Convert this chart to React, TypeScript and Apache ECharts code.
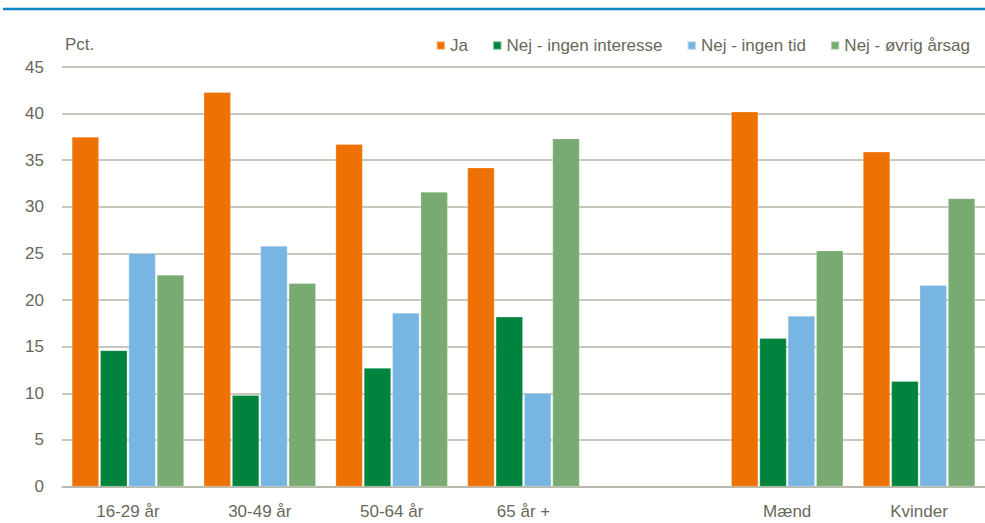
import React, { useEffect, useRef } from "react";
import * as echarts from "echarts";

const categories = ["16-29 år", "30-49 år", "50-64 år", "65 år +", "", "Mænd", "Kvinder"];
const seriesNames = ["Ja", "Nej - ingen interesse", "Nej - ingen tid", "Nej - øvrig årsag"];
const ja = [37.5, 42.3, 36.7, 34.2, null, 40.2, 35.9];
const ingenInteresse = [14.6, 9.8, 12.7, 18.2, null, 15.9, 11.3];
const ingenTid = [25.0, 25.8, 18.6, 10.0, null, 18.3, 21.6];
const oevrig = [22.7, 21.8, 31.6, 37.3, null, 25.3, 30.9];
const colors = ["#EE7203", "#00843D", "#77B5E3", "#78AB72"];
const yTicks = { min: 0, max: 45, interval: 5 };

export default function App() {
  const ref = useRef<HTMLDivElement>(null);
  useEffect(() => {
    document.body.style.margin = "0";
    if (!ref.current) return;
    const chart = echarts.init(ref.current, undefined, { renderer: "svg" });
    const font = "'Liberation Sans', Arial, sans-serif";
    const textColor = "#68685A";
    const gridColor = "#B5B5A6";
    const data = [ja, ingenInteresse, ingenTid, oevrig];
    chart.setOption({
      animation: false,
      textStyle: { fontFamily: font },
      grid: { left: 62, top: 67, width: 930, height: 419.5 },
      legend: {
        right: 10,
        top: 32,
        itemWidth: 8.5,
        itemHeight: 8.5,
        itemGap: 24,
        icon: "rect",
        textStyle: { color: textColor, fontSize: 17, fontFamily: font, padding: [0, 0, 0, 0] },
        data: seriesNames,
      },
      graphic: [
        {
          type: "line",
          shape: { x1: 3, y1: 9, x2: 985, y2: 9 },
          style: { stroke: "#0A88C8", lineWidth: 2.5 },
        },
        {
          type: "text",
          x: 65,
          y: 44,
          style: { text: "Pct.", fill: textColor, fontSize: 17, fontFamily: font, verticalAlign: "middle" },
        },
      ],
      xAxis: {
        type: "category",
        data: categories,
        axisTick: { show: false },
        axisLine: { lineStyle: { color: gridColor, width: 1.5 } },
        axisLabel: { color: textColor, fontSize: 17, margin: 16, fontFamily: font },
      },
      yAxis: {
        type: "value",
        min: yTicks.min,
        max: yTicks.max,
        interval: yTicks.interval,
        axisLabel: { color: textColor, fontSize: 17, margin: 18, fontFamily: font },
        splitLine: { lineStyle: { color: gridColor, width: 1.5 } },
        axisLine: { show: false },
        axisTick: { show: false },
      },
      series: seriesNames.map((name, i) => ({
        name,
        type: "bar",
        data: data[i],
        barWidth: 27,
        barGap: "5%",
        itemStyle: { color: colors[i], borderColor: "rgba(255,255,255,0.5)", borderWidth: 0.5 },
      })),
    });
    return () => chart.dispose();
  }, []);
  return <div ref={ref} style={{ width: 985, height: 523 }} />;
}
